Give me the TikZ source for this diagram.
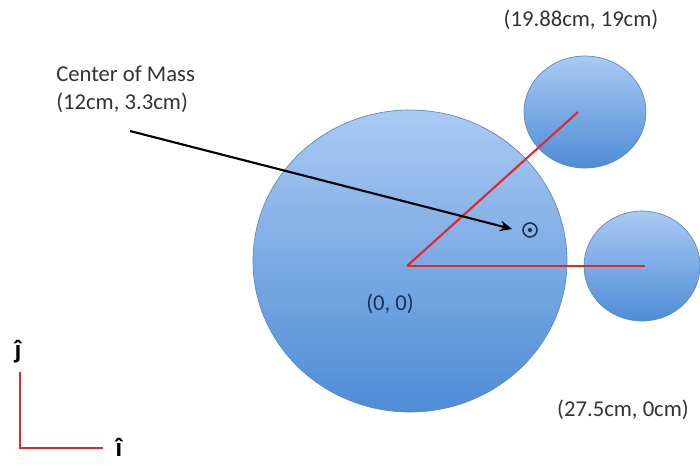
\documentclass[tikz,border=0pt]{standalone}
\usepackage{fontspec}
\setmainfont{Carlito}
\usetikzlibrary{arrows.meta}
\definecolor{ballTop}{HTML}{A9CAF3}
\definecolor{ballBot}{HTML}{4E8CD6}
\definecolor{ballEdge}{HTML}{5A86BE}
\definecolor{redline}{HTML}{E8262A}
\definecolor{navy}{HTML}{1F2F5C}
\definecolor{txt}{HTML}{333333}
\tikzset{
  ballshade/.style={draw=ballEdge, line width=0.5pt, top color=ballTop, bottom color=ballBot},
  rod/.style={draw=redline, line width=1.6pt},
  lbl/.style={font=\fontsize{17}{20.5}\selectfont, text=txt, inner sep=0pt},
  hatlbl/.style={font=\fontsize{20}{24}\selectfont\bfseries, text=black, inner sep=0pt},
}
\begin{document}
\begin{tikzpicture}[x=0.75pt,y=-0.75pt]
\useasboundingbox (0,0) rectangle (700,465);
% balls
\shade[ballshade] (410,261) ellipse [x radius=157, y radius=151];
\shade[ballshade] (585,112) ellipse [x radius=61, y radius=56];
\shade[ballshade] (642,266) ellipse [x radius=58, y radius=55];
% named points
\coordinate (O) at (407,266);
\coordinate (A) at (578,112);
\coordinate (B) at (645,266);
\coordinate (S) at (130,131);
\node[circle, draw=navy, line width=1.2pt, minimum size=10.5pt, inner sep=0pt] (cm) at (530,230) {};
\fill[navy] (cm.center) circle (1.6pt);
% rods
\draw[rod] (O) -- (A);
\draw[rod] (O) -- (B);
% arrow
\draw[line width=1.6pt, -{Stealth[length=9pt,width=8pt]}] (S) -- (512,229) coordinate (E);
% labels
\node[lbl, anchor=north west, align=left] (cmlabel) at (56,66) {Center of Mass\\(12cm, 3.3cm)};
\node[lbl] (lblA) at (581,20) {(19.88cm, 19cm)};
\node[lbl] (lblB) at (623,410) {(27.5cm, 0cm)};
\node[lbl, text=navy] (lblO) at (390,304) {(0, 0)};
% axes
\coordinate (ax0) at (20,448);
\coordinate (axj) at (20,372);
\coordinate (axi) at (103,448);
\draw[rod, line width=1.4pt] (axj) -- (ax0) -- (axi);
\node[hatlbl] (jhat) at (18,352) {ĵ};
\node[hatlbl] (ihat) at (119,447) {î};
\end{tikzpicture}
\end{document}
